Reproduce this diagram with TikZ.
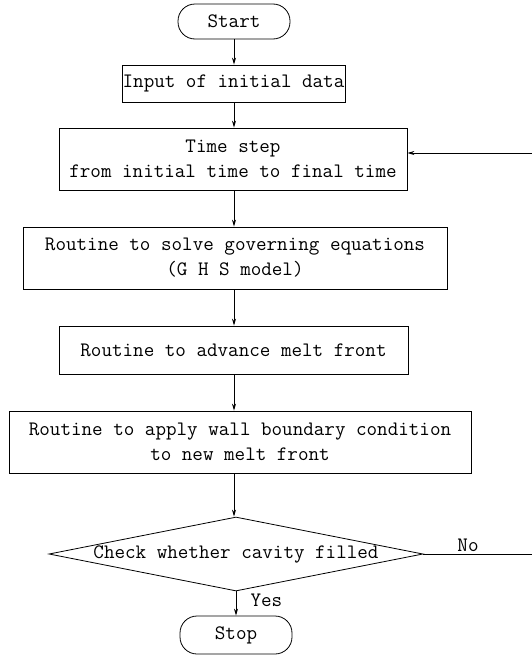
\documentclass[tikz,border=0pt]{standalone}
\usetikzlibrary{arrows.meta,shapes.geometric}
\begin{document}
\begin{tikzpicture}[x=1pt,y=1pt,
  every node/.style={font=\ttfamily\fontsize{20.5}{25}\selectfont},
  procbox/.style={draw,line width=0.8pt,rectangle,inner sep=0pt,align=center},
  termbox/.style={draw,line width=0.8pt,rectangle,rounded corners=17pt,inner sep=0pt},
  decbox/.style={draw,line width=0.8pt,diamond,inner sep=0pt},
  arr/.style={line width=0.8pt,-{Stealth[length=7pt,width=4pt]}},
  plain/.style={line width=0.8pt}]
\useasboundingbox (0,0) rectangle (531,-656);
\coordinate (axis) at (234,0);
\node[termbox,minimum width=112pt,minimum height=35pt] (start) at (234,-21.5) {Start};
\node[procbox,minimum width=223pt,minimum height=37pt] (input) at (233.5,-83.5) {Input of initial data};
\node[procbox,minimum width=348pt,minimum height=62pt] (time) at (233,-159) {Time step\\from initial time to final time};
\node[procbox,minimum width=424pt,minimum height=62pt] (solve) at (235,-258) {Routine to solve governing equations\\(G H S model)};
\node[procbox,minimum width=349pt,minimum height=48pt] (adv) at (233.5,-350) {Routine to advance melt front};
\node[procbox,minimum width=462pt,minimum height=62pt] (wall) at (240,-442) {Routine to apply wall boundary condition\\to new melt front};
\node[decbox,minimum width=374pt,minimum height=74pt] (check) at (236,-554) {};
\node (checktext) at (236,-554) {Check whether cavity filled};
\node[termbox,minimum width=112pt,minimum height=38pt] (stop) at (236,-635) {Stop};
\node[anchor=west] (yes) at (247,-600) {Yes};
\node (no) at (468,-545) {No};
\coordinate (loopB) at (533,-554);
\coordinate (loopT) at (533,-153);
\draw[arr] (start.south -| axis) -- (axis |- input.north);
\draw[arr] (axis |- input.south) -- (axis |- time.north);
\draw[arr] (axis |- time.south) -- (axis |- solve.north);
\draw[arr] (axis |- solve.south) -- (axis |- adv.north);
\draw[arr] (axis |- adv.south) -- (axis |- wall.north);
\draw[arr] (axis |- wall.south) -- (axis |- check.north);
\draw[arr] (check.south) -- (check.south |- stop.north);
\draw[plain] (check.east) -- (loopB) -- (loopT);
\draw[arr] (loopT) -- (loopT -| time.east);
\end{tikzpicture}
\end{document}
